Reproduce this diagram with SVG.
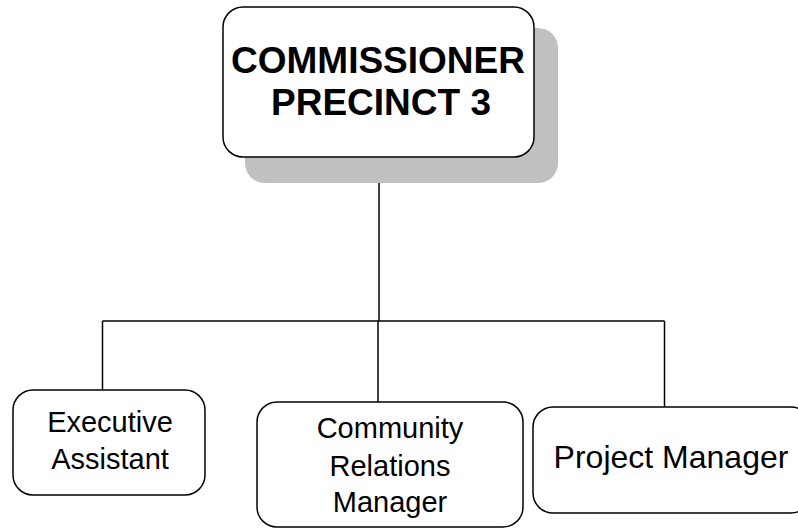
<svg xmlns="http://www.w3.org/2000/svg" width="798" height="529" viewBox="0 0 798 529">
  <style>
    .box { fill: #ffffff; stroke: #000000; stroke-width: 1.5; }
    .shadow { fill: #c0c0c0; stroke: none; }
    .line { fill: none; stroke: #000000; stroke-width: 1.5; }
    .title { font-family: "Liberation Sans", Arial, sans-serif; font-weight: bold; font-size: 37px; fill: #000; text-anchor: middle; }
    .label { font-family: "Liberation Sans", Arial, sans-serif; font-size: 29px; fill: #000; text-anchor: middle; }
  </style>
  <rect width="798" height="529" fill="#ffffff"/>

  <!-- connectors -->
  <g id="connectors">
    <path class="line" d="M379,157 V321"/>
    <path class="line" d="M102.5,321 H664.5"/>
    <path class="line" d="M102.5,321 V390"/>
    <path class="line" d="M378,321 V402"/>
    <path class="line" d="M664.5,321 V407"/>
  </g>

  <!-- top node -->
  <g id="commissioner">
    <rect class="shadow" x="245" y="28" width="313" height="155" rx="20"/>
    <rect class="box" x="223" y="7" width="311" height="150" rx="20"/>
    <text class="title" x="378" y="73">COMMISSIONER</text>
    <text class="title" x="381" y="115">PRECINCT 3</text>
  </g>

  <g id="executive-assistant">
    <rect class="box" x="13" y="390" width="192" height="105" rx="20"/>
    <text class="label" x="110" y="432">Executive</text>
    <text class="label" x="110" y="469">Assistant</text>
  </g>

  <g id="community-relations-manager">
    <rect class="box" x="257" y="402" width="266" height="125" rx="20"/>
    <text class="label" x="390" y="438">Community</text>
    <text class="label" x="390" y="476">Relations</text>
    <text class="label" x="390" y="512">Manager</text>
  </g>

  <g id="project-manager">
    <rect class="box" x="533" y="407" width="278" height="106" rx="20"/>
    <text class="label" x="671" y="468" style="font-size:32px">Project Manager</text>
  </g>
</svg>
